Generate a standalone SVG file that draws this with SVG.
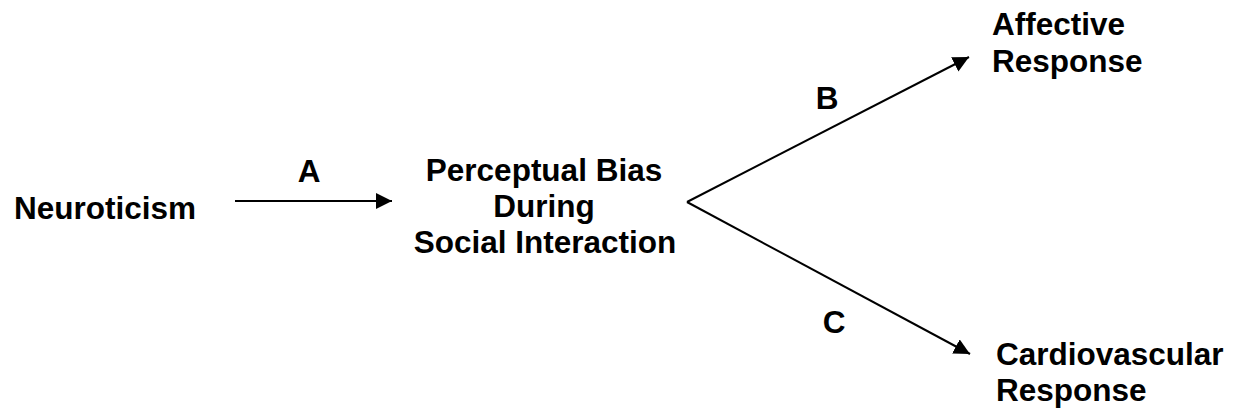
<svg xmlns="http://www.w3.org/2000/svg" width="1238" height="414" viewBox="0 0 1238 414">
<style>
text{font-family:"Liberation Sans",Arial,sans-serif;font-weight:bold;font-size:31.5px;fill:#000}
.c{text-anchor:middle}
.edge{stroke:#000;stroke-width:2;fill:none}
</style>
<defs>
<marker id="ah" markerUnits="userSpaceOnUse" markerWidth="18" markerHeight="18" refX="16" refY="8" orient="auto">
<path d="M0,0 L16,8 L0,16 Z" fill="#000"/>
</marker>
</defs>
<rect width="1238" height="414" fill="#fff"/>
<g id="connectors">
<line class="edge" x1="235" y1="201" x2="392" y2="201" marker-end="url(#ah)"/>
<line class="edge" x1="687" y1="202" x2="969" y2="57" marker-end="url(#ah)"/>
<line class="edge" x1="687" y1="202" x2="970" y2="354" marker-end="url(#ah)"/>
<text class="c" x="309" y="182">A</text>
<text class="c" x="827" y="109">B</text>
<text class="c" x="834" y="333">C</text>
</g>
<g id="neuroticism"><text x="14" y="219">Neuroticism</text></g>
<g id="perceptual-bias">
<text class="c" x="544" y="181">Perceptual Bias</text>
<text class="c" x="544" y="217">During</text>
<text class="c" x="545" y="253">Social Interaction</text>
</g>
<g id="affective"><text x="992" y="35">Affective</text><text x="992" y="72">Response</text></g>
<g id="cardiovascular"><text x="996" y="365">Cardiovascular</text><text x="996" y="401">Response</text></g>
</svg>
